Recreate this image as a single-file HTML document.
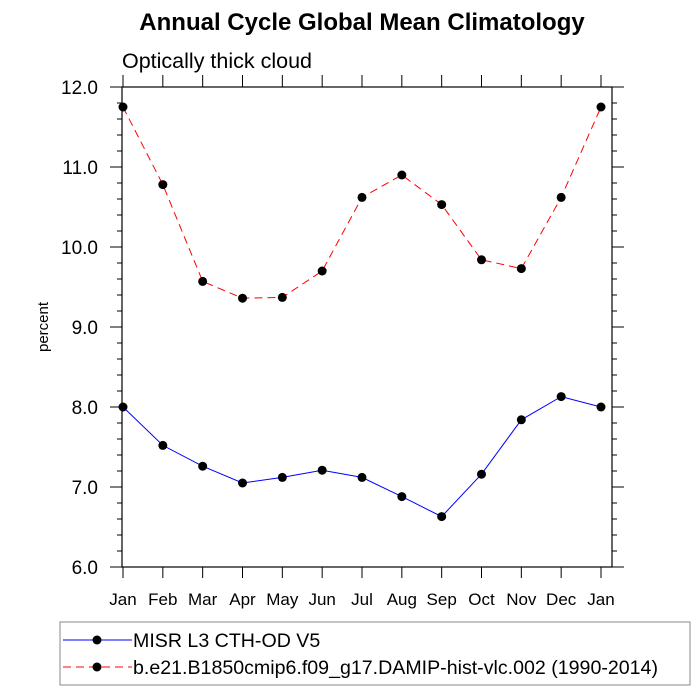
<!DOCTYPE html>
<html><head><meta charset="utf-8"><style>body{margin:0;background:#fff}svg{display:block;font-family:"Liberation Sans",sans-serif}</style></head>
<body>
<svg id="c" width="700" height="700">
<text x="362" y="30" text-anchor="middle" font-size="24" font-weight="bold">Annual Cycle Global Mean Climatology</text>
<text x="122" y="68" font-size="21.5">Optically thick cloud</text>
<text transform="translate(48,327) rotate(-90)" text-anchor="middle" font-size="15">percent</text>
<rect x="122" y="87" width="490" height="480" fill="none" stroke="#000" stroke-width="1.2"/>
<g id="ticks"></g>
<g id="series"></g>
<rect x="60" y="622" width="630" height="63" fill="none" stroke="#888"/>
<g>
<line x1="63" y1="640" x2="132" y2="640" stroke="blue"/><circle cx="97" cy="640" r="4.5"/>
<text x="133" y="647" font-size="19.6">MISR L3 CTH-OD V5</text></g>
<g>
<line x1="63" y1="667" x2="132" y2="667" stroke="red" stroke-dasharray="8,5"/><circle cx="97" cy="667" r="4.5"/>
<text x="133" y="674" font-size="19.6">b.e21.B1850cmip6.f09_g17.DAMIP-hist-vlc.002 (1990-2014)</text></g>
</svg>
<script>
const months=["Jan","Feb","Mar","Apr","May","Jun","Jul","Aug","Sep","Oct","Nov","Dec","Jan"];
const misr=[8.0,7.52,7.26,7.05,7.12,7.21,7.12,6.88,6.63,7.16,7.84,8.13,8.0];
const model=[11.75,10.78,9.57,9.36,9.37,9.70,10.62,10.90,10.53,9.84,9.73,10.62,11.75];
const yTicks=["6.0","7.0","8.0","9.0","10.0","11.0","12.0"];
const NS="http://www.w3.org/2000/svg";
const X=i=>123+i*(601-123)/12, Y=v=>567-(v-6)*80;
function el(t,a,p){const e=document.createElementNS(NS,t);for(const k in a)e.setAttribute(k,a[k]);p.appendChild(e);return e;}
const tk=document.getElementById('ticks'),sr=document.getElementById('series');
months.forEach((m,i)=>{const x=X(i);
el('line',{x1:x,y1:567,x2:x,y2:578,stroke:'#000'},tk);
el('line',{x1:x,y1:87,x2:x,y2:75,stroke:'#000'},tk);
const t=el('text',{x:x,y:605,'text-anchor':'middle','font-size':17},tk);t.textContent=m;

});
for(let k=0;k<=30;k++){const v=6+k*0.2,y=Y(v),maj=k%5===0;const L=maj?12:5;
el('line',{x1:122,y1:y,x2:122-L,y2:y,stroke:'#000'},tk);
el('line',{x1:612,y1:y,x2:612+L,y2:y,stroke:'#000'},tk);}
yTicks.forEach(s=>{const t=el('text',{x:98,y:Y(parseFloat(s))+7,'text-anchor':'end','font-size':19},tk);t.textContent=s;

});
function draw(d,c,dash,name){const p=el('polyline',{points:d.map((v,i)=>X(i)+','+Y(v)).join(' '),fill:'none',stroke:c,'stroke-width':1,'stroke-dasharray':dash},sr);


d.forEach((v,i)=>{const q=el('circle',{cx:X(i),cy:Y(v),r:4.5,fill:'#000'},sr);

});}
draw(misr,'blue','none','misr');
draw(model,'red','8,5','model');
</script>
</body></html>
